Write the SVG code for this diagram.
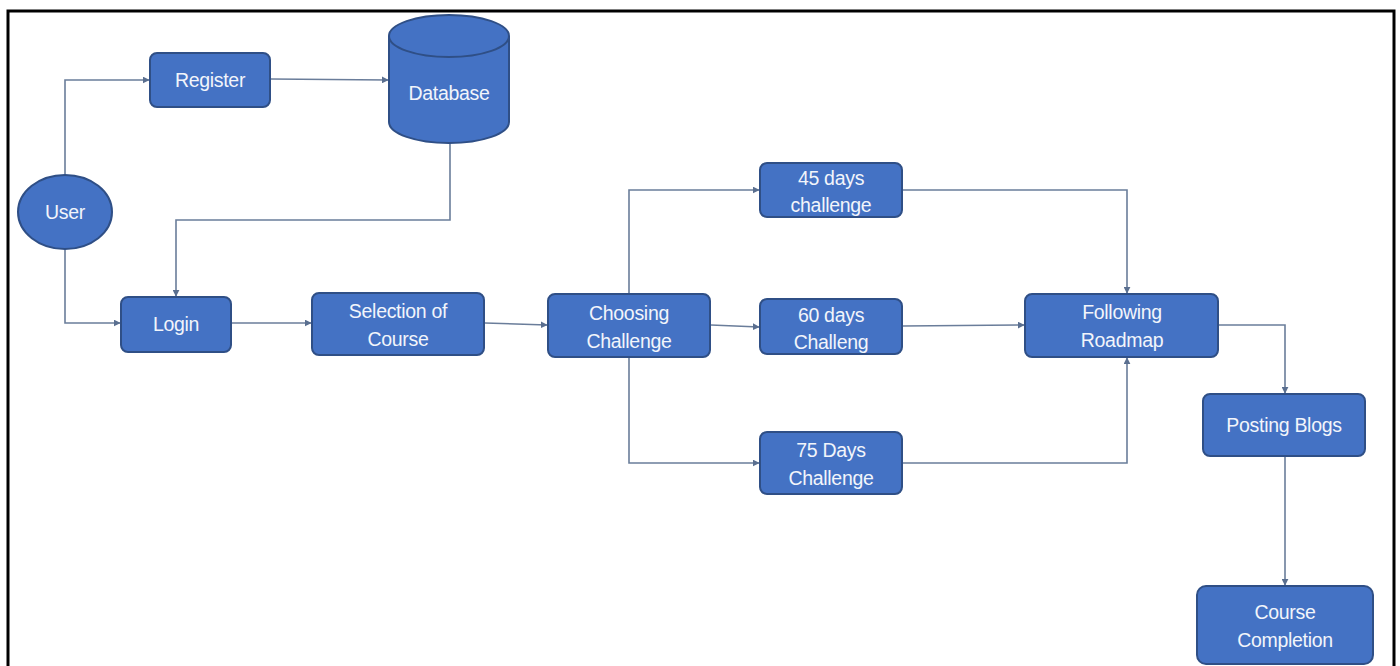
<svg xmlns="http://www.w3.org/2000/svg" width="1400" height="666" viewBox="0 0 1400 666">
<defs>
<style>
.n{fill:#4472c4;stroke:#2f4f86;stroke-width:2}
.t{fill:#f2f5fb;font-family:"Liberation Sans",Arial,sans-serif;font-size:19.5px;text-anchor:middle;letter-spacing:-0.3px}
.c{fill:none;stroke:#6a7d9a;stroke-width:1.6}
</style>
<marker id="a" viewBox="0 0 10 10" refX="9" refY="5" markerWidth="7" markerHeight="7" orient="auto-start-reverse" markerUnits="userSpaceOnUse">
<path d="M0,0 L10,5 L0,10 z" fill="#5a6f90"/>
</marker>
</defs>
<rect x="0" y="0" width="1400" height="666" fill="#ffffff"/>
<path d="M8,666 V11 H1394 V666" fill="none" stroke="#000" stroke-width="3"/>
<g id="connectors">
<path class="c" d="M65,175 V80 H149" marker-end="url(#a)"/>
<path class="c" d="M65,249 V323 H120" marker-end="url(#a)"/>
<path class="c" d="M271,79 L388,80" marker-end="url(#a)"/>
<path class="c" d="M450,143 V220 H176 V296" marker-end="url(#a)"/>
<path class="c" d="M232,323 L311,323" marker-end="url(#a)"/>
<path class="c" d="M485,323 L547,325" marker-end="url(#a)"/>
<path class="c" d="M629,294 V190 H759" marker-end="url(#a)"/>
<path class="c" d="M711,325 L759,327" marker-end="url(#a)"/>
<path class="c" d="M629,358 V463 H759" marker-end="url(#a)"/>
<path class="c" d="M903,190 H1127 V293" marker-end="url(#a)"/>
<path class="c" d="M903,326 L1024,325" marker-end="url(#a)"/>
<path class="c" d="M903,463 H1127 V358" marker-end="url(#a)"/>
<path class="c" d="M1219,325 H1285 V393" marker-end="url(#a)"/>
<path class="c" d="M1285,457 V585" marker-end="url(#a)"/>
</g>
<g id="user"><ellipse class="n" cx="65" cy="212" rx="47" ry="37"/><text class="t" x="65" y="219">User</text></g>
<g id="register"><rect class="n" x="150" y="53" width="120" height="54" rx="7"/><text class="t" x="210" y="87">Register</text></g>
<g id="database">
<path class="n" d="M389,36 V122 A60,21 0 0 0 509,122 V36 A60,21 0 0 0 389,36 Z"/>
<path d="M389,36 A60,21 0 0 0 509,36" fill="none" stroke="#2f4f86" stroke-width="2"/>
<text class="t" x="449" y="100">Database</text>
</g>
<g id="login"><rect class="n" x="121" y="297" width="110" height="55" rx="7"/><text class="t" x="176" y="331">Login</text></g>
<g id="selection"><rect class="n" x="312" y="293" width="172" height="62" rx="7"/><text class="t" x="398" y="318">Selection of</text><text class="t" x="398" y="346">Course</text></g>
<g id="choosing"><rect class="n" x="548" y="294" width="162" height="63" rx="7"/><text class="t" x="629" y="320">Choosing</text><text class="t" x="629" y="348">Challenge</text></g>
<g id="d45"><rect class="n" x="760" y="163" width="142" height="54" rx="7"/><text class="t" x="831" y="185">45 days</text><text class="t" x="831" y="212">challenge</text></g>
<g id="d60"><rect class="n" x="760" y="299" width="142" height="55" rx="7"/><text class="t" x="831" y="322">60 days</text><text class="t" x="831" y="349">Challeng</text></g>
<g id="d75"><rect class="n" x="760" y="432" width="142" height="62" rx="7"/><text class="t" x="831" y="457">75 Days</text><text class="t" x="831" y="485">Challenge</text></g>
<g id="roadmap"><rect class="n" x="1025" y="294" width="193" height="63" rx="7"/><text class="t" x="1122" y="319">Following</text><text class="t" x="1122" y="347">Roadmap</text></g>
<g id="blogs"><rect class="n" x="1203" y="394" width="162" height="62" rx="7"/><text class="t" x="1284" y="432">Posting Blogs</text></g>
<g id="completion"><rect class="n" x="1197" y="586" width="176" height="78" rx="9"/><text class="t" x="1285" y="619">Course</text><text class="t" x="1285" y="647">Completion</text></g>
</svg>
